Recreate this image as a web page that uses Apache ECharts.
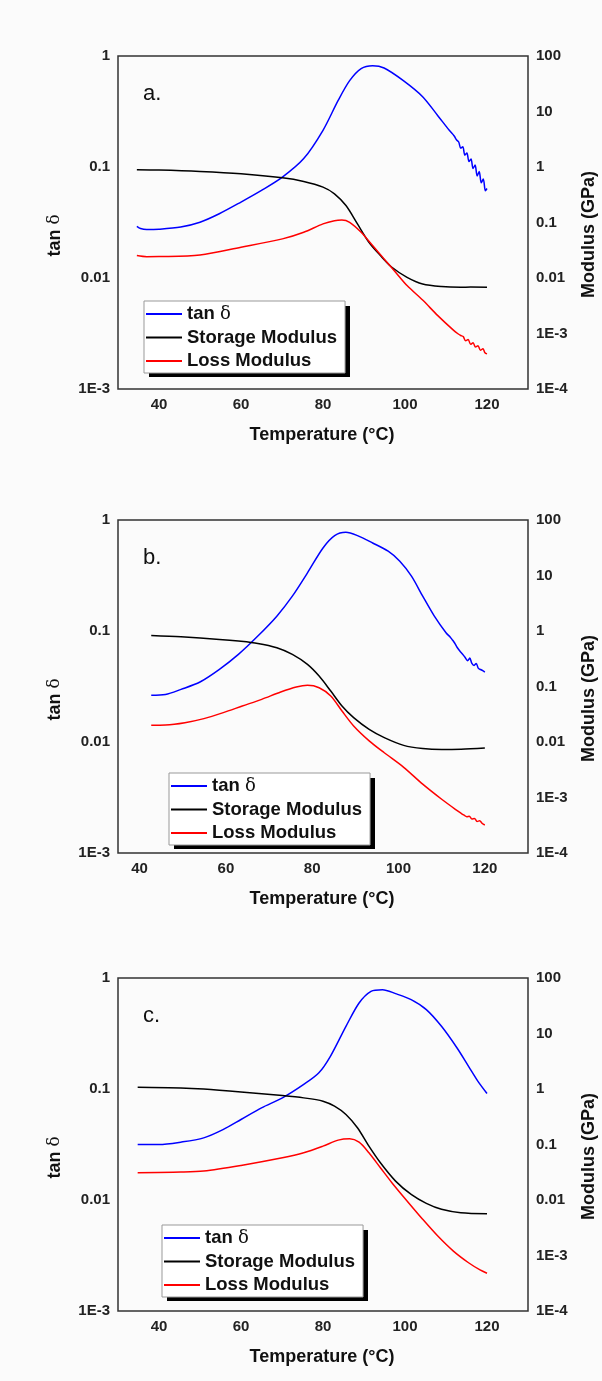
<!DOCTYPE html>
<html>
<head>
<meta charset="utf-8">
<script src="https://cdn.jsdelivr.net/npm/echarts@6/dist/echarts.min.js"></script>
<style>
html,body{margin:0;padding:0;background:#fbfbfb;}
#chart{width:602px;height:1381px;}
</style>
</head>
<body>
<div id="chart"></div>
<script>
// ---------- DATA ----------
const panelLabels = ['a.', 'b.', 'c.'];
const seriesNames = ['tan δ', 'Storage Modulus', 'Loss Modulus'];
const xTickLabels = [40, 60, 80, 100, 120];
const xRanges = [[30, 130], [35, 130], [30, 130]];
const leftTicks = ['1E-3', '0.01', '0.1', '1'];
const rightTicks = ['1E-4', '1E-3', '0.01', '0.1', '1', '10', '100'];

// Panel a  [temperature °C, value]
const tanA = [[34.6,0.0292],[35.5,0.0279],[37,0.0273],[40,0.0275],[45.3,0.0288],[50,0.0318],[54.7,0.0379],[60,0.0483],[65,0.0615],[70.1,0.081],[75.3,0.119],[80,0.214],[83.7,0.398],[86.5,0.60],[89.3,0.77],[92.1,0.818],[94.9,0.78],[99.6,0.60],[104.3,0.43],[108,0.29],[110.8,0.214],[112,0.19],[112.6,0.175],[113.1,0.168],[113.6,0.148],[114.1,0.152],[114.6,0.128],[115.1,0.134],[115.6,0.112],[116.1,0.118],[116.6,0.097],[117.1,0.104],[117.6,0.083],[118.1,0.091],[118.6,0.072],[119.1,0.078],[119.6,0.061],[120,0.064]];
const storageA = [[34.6,0.891],[40,0.88],[50,0.83],[60,0.754],[70.1,0.638],[75.3,0.548],[80,0.434],[82.8,0.329],[85.6,0.202],[88.4,0.0945],[91.2,0.0441],[94,0.0254],[96.8,0.0156],[100.5,0.0103],[104.3,0.0078],[108.9,0.0070],[113.6,0.0068],[116,0.00685],[120,0.0068]];
const lossA = [[34.6,0.0254],[37,0.0242],[40,0.0243],[50,0.026],[60,0.0358],[70.1,0.0507],[75.3,0.0668],[80,0.0945],[82.8,0.108],[84.6,0.111],[86.5,0.101],[89.3,0.0668],[92.1,0.0385],[94.9,0.0221],[97.7,0.0127],[100.5,0.0073],[104.3,0.0040],[108,0.0021],[111.8,0.00115],[113,0.00098],[113.6,0.00092],[114.2,0.00088],[114.8,0.00074],[115.4,0.00078],[116,0.00064],[116.6,0.00068],[117.2,0.00057],[117.8,0.00060],[118.4,0.00050],[119,0.00053],[119.5,0.00045],[120,0.00043]];

// Panel b
const tanB = [[42.7,0.0264],[46,0.0268],[49.6,0.0298],[54,0.0347],[58.5,0.0451],[62.9,0.0615],[67.4,0.090],[71.8,0.136],[75.4,0.206],[78.9,0.334],[82.5,0.56],[85.2,0.723],[87.8,0.775],[90.5,0.723],[94,0.621],[97.6,0.523],[100.3,0.425],[103,0.312],[105.6,0.206],[108.3,0.136],[111,0.0964],[112,0.088],[112.5,0.083],[113,0.078],[113.6,0.071],[114.2,0.066],[114.8,0.062],[115.4,0.058],[116,0.054],[116.5,0.057],[117,0.051],[117.5,0.049],[118,0.051],[118.5,0.046],[119,0.045],[119.5,0.044],[120,0.0427]];
const storageB = [[42.7,0.832],[49.6,0.787],[58.5,0.705],[62.9,0.658],[67.4,0.597],[71.8,0.499],[75.4,0.379],[78.9,0.25],[81.6,0.154],[84.3,0.0828],[86.9,0.0445],[89.6,0.0275],[93.2,0.0169],[96.7,0.012],[101.2,0.0087],[105.6,0.0076],[110,0.0073],[114.5,0.0074],[120,0.0078]];
const lossB = [[42.7,0.020],[46,0.0202],[50.5,0.0223],[54.9,0.0264],[59.4,0.0338],[63.8,0.0445],[68.3,0.0587],[72.7,0.0795],[76.3,0.0977],[78.9,0.105],[81.6,0.095],[84.3,0.0674],[86.9,0.0362],[89.6,0.0195],[93.2,0.0105],[96.7,0.0064],[101.2,0.0035],[105.6,0.00174],[110,0.00093],[113.6,0.00058],[114.5,0.00052],[115.2,0.00048],[115.8,0.00045],[116.4,0.00046],[117,0.00041],[117.6,0.00042],[118.2,0.00037],[118.8,0.00038],[119.4,0.00034],[120,0.00032]];

// Panel c
const tanC = [[34.8,0.0316],[40,0.0316],[45.3,0.0332],[50.9,0.0363],[55.6,0.0431],[60,0.0531],[65,0.0676],[70.1,0.0832],[75.3,0.110],[79,0.14],[81.8,0.197],[85.6,0.367],[88.8,0.596],[91.7,0.759],[94.5,0.785],[97.7,0.723],[101.5,0.638],[105.2,0.519],[108.9,0.367],[112.7,0.234],[115.5,0.16],[117.8,0.117],[120,0.091]];
const storageC = [[34.8,1.077],[45.3,1.047],[50.9,1.0],[60,0.887],[70.1,0.762],[75.3,0.692],[80,0.603],[82.8,0.49],[85.6,0.347],[88.4,0.2],[91.2,0.0933],[94,0.0468],[97.7,0.0219],[101.5,0.0126],[105.2,0.0087],[108.9,0.0068],[113.6,0.0059],[120,0.00566]];
const lossC = [[34.8,0.031],[45.3,0.0318],[50.9,0.0332],[60,0.042],[70.1,0.0577],[75.3,0.071],[80,0.0935],[83.7,0.12],[86.5,0.127],[88.8,0.11],[91.2,0.071],[94,0.0381],[96.8,0.0205],[100.5,0.0096],[104.3,0.0045],[108,0.00224],[111.8,0.0012],[115.5,0.00074],[118.3,0.00055],[120,0.00048]];

const panels = [[tanA, storageA, lossA], [tanB, storageB, lossB], [tanC, storageC, lossC]];
const colors = ['#0000ff', '#000000', '#ff0000'];

// ---------- LAYOUT ----------
const FONT = '"Liberation Sans", Arial, sans-serif';
const gridLeft = 118, gridWidth = 410, gridHeight = 333;
const gridTops = [56, 520, 978];
const legendPos = [[144, 301], [169, 773], [162, 1225]];
const legendW = 201, legendH = 71;

function logLabel(v) {
  const e = Math.round(Math.log10(v));
  if (e <= -3) return '1E' + e;
  return e < 0 ? (v.toFixed(-e)) : String(Math.round(v));
}

const option = {
  backgroundColor: '#fbfbfb',
  animation: false,
  grid: [], xAxis: [], yAxis: [], series: [], legend: [], graphic: []
};

panels.forEach((p, i) => {
  const top = gridTops[i];
  option.grid.push({
    left: gridLeft, top: top, width: gridWidth, height: gridHeight,
    show: true, borderColor: '#333', borderWidth: 1.5, backgroundColor: 'transparent'
  });
  option.xAxis.push({
    type: 'value', gridIndex: i, min: xRanges[i][0], max: xRanges[i][1], interval: 5,
    axisLine: {show: false}, axisTick: {show: false}, splitLine: {show: false},
    axisLabel: {
      margin: 8, color: '#222', fontFamily: FONT, fontWeight: 'bold', fontSize: 15,
      formatter: v => xTickLabels.indexOf(v) >= 0 ? String(v) : ''
    }
  });
  option.yAxis.push({
    type: 'log', logBase: 10, gridIndex: i, min: 0.001, max: 1, position: 'left',
    axisLine: {show: false}, axisTick: {show: false}, splitLine: {show: false},
    axisLabel: {margin: 8, color: '#222', fontFamily: FONT, fontWeight: 'bold', fontSize: 15,
      formatter: v => { const s = logLabel(v); return leftTicks.indexOf(s) >= 0 ? s : ''; }}
  });
  option.yAxis.push({
    type: 'log', logBase: 10, gridIndex: i, min: 0.0001, max: 100, position: 'right',
    axisLine: {show: false}, axisTick: {show: false}, splitLine: {show: false},
    axisLabel: {margin: 8, color: '#222', fontFamily: FONT, fontWeight: 'bold', fontSize: 15,
      formatter: v => { const s = logLabel(v); return rightTicks.indexOf(s) >= 0 ? s : ''; }}
  });
  p.forEach((data, k) => {
    option.series.push({
      type: 'line', name: seriesNames[k], xAxisIndex: i, yAxisIndex: 2 * i + (k === 0 ? 0 : 1),
      data: data, showSymbol: false, symbol: 'none', smooth: 0.3,
      lineStyle: {color: colors[k], width: 1.5}, itemStyle: {color: colors[k]}
    });
  });
  option.legend.push({
    orient: 'vertical', left: legendPos[i][0], top: legendPos[i][1], z: 6,
    data: seriesNames.map(n => ({name: n, icon: 'rect'})),
    itemWidth: 36, itemHeight: 2, itemGap: 3.5, selectedMode: false,
    padding: [3, 8, 2, 2],
    backgroundColor: '#ffffff', borderColor: '#999', borderWidth: 1,
    formatter: n => n === 'tan δ' ? 'tan {d|δ}' : n,
    textStyle: {fontFamily: FONT, fontWeight: 'bold', fontSize: 18.5, color: '#111', lineHeight: 20,
      rich: {d: {fontFamily: '"DejaVu Serif", serif', fontWeight: 'normal', fontSize: 18, color: '#111', lineHeight: 20}}}
  });
  // legend drop shadow
  option.graphic.push({
    type: 'rect', z: 5, silent: true,
    shape: {x: legendPos[i][0] + 5, y: legendPos[i][1] + 5, width: legendW, height: legendH},
    style: {fill: '#000'}
  });
  // panel letter
  option.graphic.push({
    type: 'text', left: 143, top: top + 27, z: 10,
    style: {text: panelLabels[i], font: '22px ' + FONT, fill: '#111'}
  });
  // axis titles
  option.graphic.push({
    type: 'text', x: 322, y: top + gridHeight + 46, z: 10,
    style: {text: 'Temperature (°C)', font: 'bold 18px ' + FONT, fill: '#111', align: 'center', verticalAlign: 'middle'}
  });
  option.graphic.push({
    type: 'text', x: 55, y: top + gridHeight / 2 + 13, rotation: Math.PI / 2, z: 10,
    style: {
      text: 'tan {d|δ}', font: 'bold 18px ' + FONT, fill: '#111', align: 'center', verticalAlign: 'middle',
      rich: {d: {font: '17px "DejaVu Serif", serif', fill: '#111'}}
    }
  });
  option.graphic.push({
    type: 'text', x: 589, y: top + gridHeight / 2 + 12, rotation: Math.PI / 2, z: 10,
    style: {text: 'Modulus (GPa)', font: 'bold 18px ' + FONT, fill: '#111', align: 'center', verticalAlign: 'middle'}
  });
});

const chart = echarts.init(document.getElementById('chart'), null, {renderer: 'canvas'});
chart.setOption(option);
</script>
</body>
</html>
